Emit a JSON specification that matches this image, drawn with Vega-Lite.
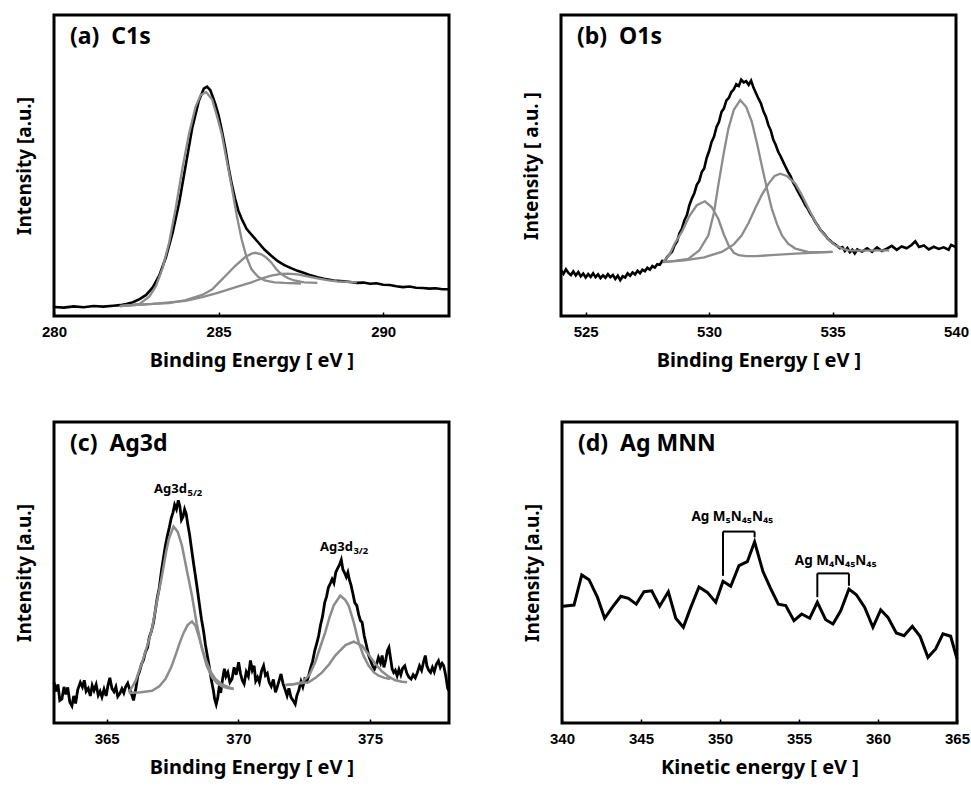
{
"$schema": "https://vega.github.io/schema/vega-lite/v6.json",
"padding": {"left": 13, "top": 13, "right": 0, "bottom": 0},
"background": "white",
"config": {
  "view": {"stroke": "black", "strokeWidth": 3},
  "axisX": {"grid": false, "domain": false, "tickColor": "black", "tickSize": -4, "tickWidth": 1.5, "labelFont": "Liberation Sans", "labelFontWeight": "bold", "labelFontSize": 15, "labelColor": "black", "labelPadding": 12, "labelFlush": false, "labelOverlap": false, "titleFont": "Noto Sans", "titleFontSize": 20, "titleFontWeight": "bold", "titleColor": "black", "titlePadding": 11},
  "axisY": {"grid": false, "domain": false, "ticks": false, "labels": false, "titleFont": "Noto Sans", "titleFontSize": 19, "titleFontWeight": "bold", "titleColor": "black", "titlePadding": 20},
  "title": {"anchor": "start", "frame": "group", "offset": -34, "dx": 16, "fontSize": 23, "font": "Noto Sans", "fontWeight": "bold", "color": "black", "baseline": "alphabetic"}
},
"datasets": {
  "a": [
{"e":280.0,"i":3.0,"s":"raw"},{"e":280.3,"i":2.8,"s":"raw"},{"e":280.6,"i":3.2,"s":"raw"},{"e":280.9,"i":2.9,"s":"raw"},{"e":281.2,"i":3.3,"s":"raw"},{"e":281.5,"i":3.1,"s":"raw"},{"e":281.8,"i":3.4,"s":"raw"},{"e":282.0,"i":3.6,"s":"raw"},{"e":282.2,"i":4.0,"s":"raw"},{"e":282.4,"i":4.6,"s":"raw"},{"e":282.6,"i":5.6,"s":"raw"},{"e":282.8,"i":7.0,"s":"raw"},{"e":283.0,"i":9.5,"s":"raw"},{"e":283.2,"i":13.5,"s":"raw"},{"e":283.4,"i":19.5,"s":"raw"},{"e":283.6,"i":27.5,"s":"raw"},{"e":283.8,"i":37.5,"s":"raw"},{"e":284.0,"i":50.0,"s":"raw"},{"e":284.2,"i":62.5,"s":"raw"},{"e":284.4,"i":71.5,"s":"raw"},{"e":284.55,"i":75.5,"s":"raw"},{"e":284.65,"i":76.2,"s":"raw"},{"e":284.75,"i":75.0,"s":"raw"},{"e":284.9,"i":70.5,"s":"raw"},{"e":285.0,"i":66.7,"s":"raw"},{"e":285.1,"i":61.5,"s":"raw"},{"e":285.2,"i":56.0,"s":"raw"},{"e":285.3,"i":49.5,"s":"raw"},{"e":285.4,"i":43.8,"s":"raw"},{"e":285.5,"i":39.0,"s":"raw"},{"e":285.6,"i":35.0,"s":"raw"},{"e":285.7,"i":32.3,"s":"raw"},{"e":285.85,"i":29.0,"s":"raw"},{"e":286.0,"i":27.0,"s":"raw"},{"e":286.2,"i":24.5,"s":"raw"},{"e":286.4,"i":22.0,"s":"raw"},{"e":286.6,"i":20.0,"s":"raw"},{"e":286.8,"i":18.2,"s":"raw"},{"e":287.0,"i":16.9,"s":"raw"},{"e":287.2,"i":15.9,"s":"raw"},{"e":287.4,"i":15.0,"s":"raw"},{"e":287.6,"i":14.3,"s":"raw"},{"e":287.8,"i":13.5,"s":"raw"},{"e":288.0,"i":12.9,"s":"raw"},{"e":288.2,"i":12.4,"s":"raw"},{"e":288.5,"i":11.8,"s":"raw"},{"e":288.8,"i":11.5,"s":"raw"},{"e":289.0,"i":11.3,"s":"raw"},{"e":289.2,"i":11.0,"s":"raw"},{"e":289.4,"i":11.1,"s":"raw"},{"e":289.6,"i":10.7,"s":"raw"},{"e":289.8,"i":10.9,"s":"raw"},{"e":290.0,"i":10.4,"s":"raw"},{"e":290.2,"i":10.3,"s":"raw"},{"e":290.4,"i":9.9,"s":"raw"},{"e":290.6,"i":9.6,"s":"raw"},{"e":290.8,"i":9.8,"s":"raw"},{"e":291.0,"i":9.4,"s":"raw"},{"e":291.2,"i":9.3,"s":"raw"},{"e":291.4,"i":9.1,"s":"raw"},{"e":291.6,"i":9.2,"s":"raw"},{"e":291.8,"i":8.9,"s":"raw"},{"e":292.0,"i":8.9,"s":"raw"},
{"e":282.0,"i":3.3,"s":"c1"},{"e":282.3,"i":3.6,"s":"c1"},{"e":282.6,"i":4.0,"s":"c1"},{"e":282.9,"i":6.5,"s":"c1"},{"e":283.1,"i":10.0,"s":"c1"},{"e":283.3,"i":16.0,"s":"c1"},{"e":283.5,"i":24.5,"s":"c1"},{"e":283.7,"i":36.0,"s":"c1"},{"e":283.9,"i":49.0,"s":"c1"},{"e":284.1,"i":60.5,"s":"c1"},{"e":284.3,"i":69.5,"s":"c1"},{"e":284.45,"i":73.3,"s":"c1"},{"e":284.62,"i":74.4,"s":"c1"},{"e":284.8,"i":72.0,"s":"c1"},{"e":284.95,"i":66.5,"s":"c1"},{"e":285.1,"i":60.3,"s":"c1"},{"e":285.25,"i":51.5,"s":"c1"},{"e":285.4,"i":42.8,"s":"c1"},{"e":285.55,"i":33.5,"s":"c1"},{"e":285.7,"i":25.5,"s":"c1"},{"e":285.85,"i":19.5,"s":"c1"},{"e":286.0,"i":15.5,"s":"c1"},{"e":286.2,"i":13.0,"s":"c1"},{"e":286.4,"i":11.8,"s":"c1"},{"e":286.7,"i":11.2,"s":"c1"},{"e":287.0,"i":11.0,"s":"c1"},{"e":287.5,"i":10.8,"s":"c1"},
{"e":282.0,"i":3.3,"s":"c2"},{"e":282.5,"i":3.7,"s":"c2"},{"e":283.0,"i":4.0,"s":"c2"},{"e":283.5,"i":4.3,"s":"c2"},{"e":284.0,"i":5.3,"s":"c2"},{"e":284.5,"i":7.0,"s":"c2"},{"e":284.8,"i":8.8,"s":"c2"},{"e":285.0,"i":11.0,"s":"c2"},{"e":285.2,"i":13.2,"s":"c2"},{"e":285.5,"i":16.6,"s":"c2"},{"e":285.8,"i":19.5,"s":"c2"},{"e":286.0,"i":20.7,"s":"c2"},{"e":286.12,"i":21.0,"s":"c2"},{"e":286.3,"i":20.5,"s":"c2"},{"e":286.45,"i":19.4,"s":"c2"},{"e":286.6,"i":17.8,"s":"c2"},{"e":286.75,"i":15.6,"s":"c2"},{"e":286.9,"i":13.9,"s":"c2"},{"e":287.1,"i":12.6,"s":"c2"},{"e":287.3,"i":11.8,"s":"c2"},{"e":287.6,"i":11.2,"s":"c2"},{"e":288.0,"i":11.0,"s":"c2"},
{"e":282.0,"i":3.3,"s":"c3"},{"e":283.0,"i":4.0,"s":"c3"},{"e":284.0,"i":5.0,"s":"c3"},{"e":284.5,"i":6.3,"s":"c3"},{"e":285.0,"i":7.8,"s":"c3"},{"e":285.5,"i":9.5,"s":"c3"},{"e":286.0,"i":11.2,"s":"c3"},{"e":286.3,"i":12.4,"s":"c3"},{"e":286.6,"i":13.4,"s":"c3"},{"e":286.9,"i":14.0,"s":"c3"},{"e":287.1,"i":14.1,"s":"c3"},{"e":287.4,"i":13.8,"s":"c3"},{"e":287.7,"i":13.2,"s":"c3"},{"e":288.0,"i":12.5,"s":"c3"},{"e":288.3,"i":11.9,"s":"c3"},{"e":288.6,"i":11.5,"s":"c3"},{"e":289.2,"i":11.2,"s":"c3"}
  ],
  "b": [
{"e":524.0,"i":15.2,"s":"raw"},{"e":524.1,"i":14.0,"s":"raw"},{"e":524.2,"i":15.5,"s":"raw"},{"e":524.3,"i":14.3,"s":"raw"},{"e":524.4,"i":13.6,"s":"raw"},{"e":524.5,"i":14.8,"s":"raw"},{"e":524.6,"i":13.5,"s":"raw"},{"e":524.7,"i":14.6,"s":"raw"},{"e":524.8,"i":13.2,"s":"raw"},{"e":524.9,"i":14.1,"s":"raw"},{"e":525.0,"i":12.8,"s":"raw"},{"e":525.1,"i":13.9,"s":"raw"},{"e":525.2,"i":13.0,"s":"raw"},{"e":525.3,"i":14.2,"s":"raw"},{"e":525.4,"i":12.9,"s":"raw"},{"e":525.5,"i":13.8,"s":"raw"},{"e":525.6,"i":12.6,"s":"raw"},{"e":525.7,"i":13.5,"s":"raw"},{"e":525.8,"i":12.7,"s":"raw"},{"e":525.9,"i":13.9,"s":"raw"},{"e":526.0,"i":12.9,"s":"raw"},{"e":526.1,"i":13.6,"s":"raw"},{"e":526.2,"i":12.3,"s":"raw"},{"e":526.3,"i":13.4,"s":"raw"},{"e":526.4,"i":11.9,"s":"raw"},{"e":526.5,"i":13.2,"s":"raw"},{"e":526.6,"i":12.8,"s":"raw"},{"e":526.7,"i":14.2,"s":"raw"},{"e":526.8,"i":13.4,"s":"raw"},{"e":526.9,"i":14.5,"s":"raw"},{"e":527.0,"i":13.8,"s":"raw"},{"e":527.1,"i":15.0,"s":"raw"},{"e":527.2,"i":14.2,"s":"raw"},{"e":527.3,"i":15.4,"s":"raw"},{"e":527.4,"i":14.9,"s":"raw"},{"e":527.5,"i":16.0,"s":"raw"},{"e":527.6,"i":15.4,"s":"raw"},{"e":527.7,"i":16.6,"s":"raw"},{"e":527.8,"i":16.1,"s":"raw"},{"e":527.9,"i":17.2,"s":"raw"},{"e":528.0,"i":17.0,"s":"raw"},{"e":528.1,"i":18.3,"s":"raw"},{"e":528.2,"i":18.2,"s":"raw"},{"e":528.3,"i":19.6,"s":"raw"},{"e":528.4,"i":20.5,"s":"raw"},{"e":528.5,"i":21.4,"s":"raw"},{"e":528.6,"i":23.5,"s":"raw"},{"e":528.7,"i":24.8,"s":"raw"},{"e":528.8,"i":27.5,"s":"raw"},{"e":528.9,"i":29.0,"s":"raw"},{"e":529.0,"i":31.8,"s":"raw"},{"e":529.1,"i":33.5,"s":"raw"},{"e":529.2,"i":36.8,"s":"raw"},{"e":529.3,"i":39.0,"s":"raw"},{"e":529.4,"i":40.8,"s":"raw"},{"e":529.5,"i":43.6,"s":"raw"},{"e":529.6,"i":44.9,"s":"raw"},{"e":529.7,"i":47.8,"s":"raw"},{"e":529.8,"i":49.0,"s":"raw"},{"e":529.9,"i":52.5,"s":"raw"},{"e":530.0,"i":54.8,"s":"raw"},{"e":530.1,"i":57.8,"s":"raw"},{"e":530.2,"i":59.6,"s":"raw"},{"e":530.3,"i":62.8,"s":"raw"},{"e":530.4,"i":64.5,"s":"raw"},{"e":530.5,"i":67.8,"s":"raw"},{"e":530.6,"i":69.0,"s":"raw"},{"e":530.7,"i":71.6,"s":"raw"},{"e":530.8,"i":72.5,"s":"raw"},{"e":530.9,"i":74.4,"s":"raw"},{"e":531.0,"i":75.3,"s":"raw"},{"e":531.1,"i":77.0,"s":"raw"},{"e":531.2,"i":76.4,"s":"raw"},{"e":531.3,"i":78.5,"s":"raw"},{"e":531.4,"i":77.6,"s":"raw"},{"e":531.5,"i":78.0,"s":"raw"},{"e":531.6,"i":76.8,"s":"raw"},{"e":531.7,"i":78.2,"s":"raw"},{"e":531.8,"i":75.8,"s":"raw"},{"e":531.9,"i":74.0,"s":"raw"},{"e":532.0,"i":72.2,"s":"raw"},{"e":532.1,"i":70.6,"s":"raw"},{"e":532.2,"i":68.0,"s":"raw"},{"e":532.3,"i":66.2,"s":"raw"},{"e":532.4,"i":63.4,"s":"raw"},{"e":532.5,"i":61.6,"s":"raw"},{"e":532.6,"i":58.5,"s":"raw"},{"e":532.7,"i":56.8,"s":"raw"},{"e":532.8,"i":54.5,"s":"raw"},{"e":532.9,"i":53.0,"s":"raw"},{"e":533.0,"i":51.2,"s":"raw"},{"e":533.1,"i":49.5,"s":"raw"},{"e":533.2,"i":47.8,"s":"raw"},{"e":533.3,"i":46.5,"s":"raw"},{"e":533.4,"i":44.4,"s":"raw"},{"e":533.5,"i":43.0,"s":"raw"},{"e":533.6,"i":41.3,"s":"raw"},{"e":533.7,"i":39.8,"s":"raw"},{"e":533.8,"i":38.4,"s":"raw"},{"e":533.9,"i":36.8,"s":"raw"},{"e":534.0,"i":35.6,"s":"raw"},{"e":534.1,"i":34.0,"s":"raw"},{"e":534.2,"i":32.8,"s":"raw"},{"e":534.3,"i":31.2,"s":"raw"},{"e":534.4,"i":30.1,"s":"raw"},{"e":534.5,"i":28.7,"s":"raw"},{"e":534.6,"i":27.8,"s":"raw"},{"e":534.7,"i":26.9,"s":"raw"},{"e":534.8,"i":25.7,"s":"raw"},{"e":534.9,"i":25.1,"s":"raw"},{"e":535.0,"i":24.3,"s":"raw"},{"e":535.1,"i":23.8,"s":"raw"},{"e":535.2,"i":23.2,"s":"raw"},{"e":535.3,"i":22.5,"s":"raw"},{"e":535.4,"i":22.9,"s":"raw"},{"e":535.5,"i":21.6,"s":"raw"},{"e":535.6,"i":22.6,"s":"raw"},{"e":535.7,"i":21.2,"s":"raw"},{"e":535.8,"i":22.0,"s":"raw"},{"e":535.9,"i":20.8,"s":"raw"},{"e":536.0,"i":22.1,"s":"raw"},{"e":536.2,"i":21.4,"s":"raw"},{"e":536.4,"i":22.5,"s":"raw"},{"e":536.6,"i":21.3,"s":"raw"},{"e":536.8,"i":22.8,"s":"raw"},{"e":537.0,"i":21.6,"s":"raw"},{"e":537.2,"i":22.4,"s":"raw"},{"e":537.4,"i":23.3,"s":"raw"},{"e":537.6,"i":22.0,"s":"raw"},{"e":537.8,"i":23.1,"s":"raw"},{"e":538.0,"i":22.5,"s":"raw"},{"e":538.2,"i":23.6,"s":"raw"},{"e":538.35,"i":24.8,"s":"raw"},{"e":538.5,"i":22.9,"s":"raw"},{"e":538.7,"i":23.4,"s":"raw"},{"e":538.9,"i":22.1,"s":"raw"},{"e":539.1,"i":23.0,"s":"raw"},{"e":539.3,"i":22.3,"s":"raw"},{"e":539.5,"i":22.8,"s":"raw"},{"e":539.7,"i":22.0,"s":"raw"},{"e":539.8,"i":23.6,"s":"raw"},{"e":540.0,"i":22.9,"s":"raw"},
{"e":528.14,"i":17.9,"s":"c1"},{"e":528.4,"i":20.5,"s":"c1"},{"e":528.6,"i":24.0,"s":"c1"},{"e":528.9,"i":28.0,"s":"c1"},{"e":529.2,"i":33.2,"s":"c1"},{"e":529.5,"i":36.8,"s":"c1"},{"e":529.83,"i":38.1,"s":"c1"},{"e":530.1,"i":36.2,"s":"c1"},{"e":530.37,"i":32.3,"s":"c1"},{"e":530.6,"i":27.0,"s":"c1"},{"e":530.8,"i":23.3,"s":"c1"},{"e":531.0,"i":21.0,"s":"c1"},{"e":531.2,"i":20.2,"s":"c1"},{"e":531.5,"i":19.9,"s":"c1"},{"e":531.9,"i":19.9,"s":"c1"},{"e":532.5,"i":20.2,"s":"c1"},{"e":533.5,"i":20.7,"s":"c1"},{"e":535.0,"i":21.3,"s":"c1"},
{"e":528.14,"i":17.9,"s":"c2"},{"e":528.6,"i":18.3,"s":"c2"},{"e":529.16,"i":19.0,"s":"c2"},{"e":529.6,"i":21.8,"s":"c2"},{"e":529.97,"i":26.8,"s":"c2"},{"e":530.2,"i":34.5,"s":"c2"},{"e":530.37,"i":43.4,"s":"c2"},{"e":530.6,"i":54.5,"s":"c2"},{"e":530.78,"i":62.2,"s":"c2"},{"e":531.0,"i":68.5,"s":"c2"},{"e":531.26,"i":71.7,"s":"c2"},{"e":531.5,"i":69.5,"s":"c2"},{"e":531.73,"i":64.5,"s":"c2"},{"e":531.95,"i":57.0,"s":"c2"},{"e":532.13,"i":50.1,"s":"c2"},{"e":532.35,"i":42.0,"s":"c2"},{"e":532.54,"i":35.6,"s":"c2"},{"e":532.75,"i":30.5,"s":"c2"},{"e":532.95,"i":26.8,"s":"c2"},{"e":533.2,"i":24.0,"s":"c2"},{"e":533.49,"i":22.4,"s":"c2"},{"e":534.0,"i":21.3,"s":"c2"},{"e":534.5,"i":21.2,"s":"c2"},{"e":535.0,"i":21.3,"s":"c2"},
{"e":528.14,"i":17.9,"s":"c3"},{"e":529.0,"i":18.5,"s":"c3"},{"e":529.8,"i":19.5,"s":"c3"},{"e":530.51,"i":21.3,"s":"c3"},{"e":531.0,"i":23.8,"s":"c3"},{"e":531.32,"i":26.8,"s":"c3"},{"e":531.6,"i":31.0,"s":"c3"},{"e":531.86,"i":35.6,"s":"c3"},{"e":532.15,"i":40.5,"s":"c3"},{"e":532.41,"i":44.0,"s":"c3"},{"e":532.65,"i":46.5,"s":"c3"},{"e":532.88,"i":47.3,"s":"c3"},{"e":533.15,"i":46.5,"s":"c3"},{"e":533.49,"i":44.0,"s":"c3"},{"e":533.75,"i":40.3,"s":"c3"},{"e":534.03,"i":35.6,"s":"c3"},{"e":534.3,"i":31.3,"s":"c3"},{"e":534.57,"i":27.9,"s":"c3"},{"e":534.85,"i":25.3,"s":"c3"},{"e":535.11,"i":23.5,"s":"c3"},{"e":535.4,"i":22.4,"s":"c3"},{"e":535.65,"i":21.8,"s":"c3"},{"e":536.2,"i":21.7,"s":"c3"},{"e":537.3,"i":21.8,"s":"c3"}
  ],
  "c": [
{"e":363.00,"i":13.5,"s":"raw"},{"e":363.08,"i":10.5,"s":"raw"},{"e":363.15,"i":12.8,"s":"raw"},{"e":363.22,"i":7.5,"s":"raw"},{"e":363.30,"i":8.0,"s":"raw"},{"e":363.38,"i":12.0,"s":"raw"},{"e":363.45,"i":9.5,"s":"raw"},{"e":363.52,"i":11.8,"s":"raw"},{"e":363.60,"i":7.0,"s":"raw"},{"e":363.68,"i":5.7,"s":"raw"},{"e":363.75,"i":9.0,"s":"raw"},{"e":363.82,"i":6.5,"s":"raw"},{"e":363.90,"i":11.0,"s":"raw"},{"e":364.00,"i":13.5,"s":"raw"},{"e":364.08,"i":12.0,"s":"raw"},{"e":364.15,"i":14.2,"s":"raw"},{"e":364.22,"i":10.5,"s":"raw"},{"e":364.30,"i":11.5,"s":"raw"},{"e":364.38,"i":9.0,"s":"raw"},{"e":364.45,"i":12.5,"s":"raw"},{"e":364.52,"i":10.8,"s":"raw"},{"e":364.60,"i":12.8,"s":"raw"},{"e":364.68,"i":9.2,"s":"raw"},{"e":364.75,"i":10.5,"s":"raw"},{"e":364.82,"i":8.6,"s":"raw"},{"e":364.90,"i":11.2,"s":"raw"},{"e":364.98,"i":9.0,"s":"raw"},{"e":365.05,"i":12.5,"s":"raw"},{"e":365.12,"i":15.0,"s":"raw"},{"e":365.20,"i":11.5,"s":"raw"},{"e":365.28,"i":10.4,"s":"raw"},{"e":365.35,"i":12.0,"s":"raw"},{"e":365.42,"i":8.8,"s":"raw"},{"e":365.50,"i":9.8,"s":"raw"},{"e":365.58,"i":11.4,"s":"raw"},{"e":365.65,"i":10.0,"s":"raw"},{"e":365.72,"i":12.0,"s":"raw"},{"e":365.80,"i":13.2,"s":"raw"},{"e":365.88,"i":11.0,"s":"raw"},{"e":365.95,"i":9.5,"s":"raw"},{"e":366.02,"i":7.5,"s":"raw"},{"e":366.10,"i":11.0,"s":"raw"},{"e":366.18,"i":15.5,"s":"raw"},{"e":366.25,"i":17.2,"s":"raw"},{"e":366.32,"i":19.5,"s":"raw"},{"e":366.40,"i":21.0,"s":"raw"},{"e":366.47,"i":23.5,"s":"raw"},{"e":366.55,"i":25.0,"s":"raw"},{"e":366.62,"i":28.5,"s":"raw"},{"e":366.70,"i":30.5,"s":"raw"},{"e":366.78,"i":33.5,"s":"raw"},{"e":366.85,"i":37.5,"s":"raw"},{"e":366.92,"i":41.5,"s":"raw"},{"e":367.00,"i":45.0,"s":"raw"},{"e":367.08,"i":50.5,"s":"raw"},{"e":367.15,"i":54.5,"s":"raw"},{"e":367.23,"i":58.9,"s":"raw"},{"e":367.30,"i":62.0,"s":"raw"},{"e":367.38,"i":65.0,"s":"raw"},{"e":367.45,"i":68.0,"s":"raw"},{"e":367.52,"i":70.0,"s":"raw"},{"e":367.58,"i":72.5,"s":"raw"},{"e":367.65,"i":71.0,"s":"raw"},{"e":367.72,"i":74.0,"s":"raw"},{"e":367.78,"i":72.0,"s":"raw"},{"e":367.84,"i":67.5,"s":"raw"},{"e":367.90,"i":68.5,"s":"raw"},{"e":367.96,"i":71.0,"s":"raw"},{"e":368.02,"i":69.5,"s":"raw"},{"e":368.08,"i":66.0,"s":"raw"},{"e":368.15,"i":62.5,"s":"raw"},{"e":368.22,"i":58.0,"s":"raw"},{"e":368.30,"i":53.0,"s":"raw"},{"e":368.37,"i":48.9,"s":"raw"},{"e":368.45,"i":44.0,"s":"raw"},{"e":368.52,"i":39.5,"s":"raw"},{"e":368.60,"i":34.5,"s":"raw"},{"e":368.68,"i":30.5,"s":"raw"},{"e":368.75,"i":26.0,"s":"raw"},{"e":368.83,"i":22.0,"s":"raw"},{"e":368.90,"i":18.5,"s":"raw"},{"e":368.98,"i":14.0,"s":"raw"},{"e":369.05,"i":11.0,"s":"raw"},{"e":369.10,"i":8.0,"s":"raw"},{"e":369.16,"i":6.2,"s":"raw"},{"e":369.22,"i":8.5,"s":"raw"},{"e":369.28,"i":12.5,"s":"raw"},{"e":369.33,"i":10.0,"s":"raw"},{"e":369.40,"i":14.5,"s":"raw"},{"e":369.47,"i":18.0,"s":"raw"},{"e":369.53,"i":15.5,"s":"raw"},{"e":369.60,"i":16.8,"s":"raw"},{"e":369.68,"i":13.5,"s":"raw"},{"e":369.76,"i":14.6,"s":"raw"},{"e":369.84,"i":18.5,"s":"raw"},{"e":369.92,"i":16.0,"s":"raw"},{"e":370.01,"i":20.2,"s":"raw"},{"e":370.08,"i":16.5,"s":"raw"},{"e":370.15,"i":14.2,"s":"raw"},{"e":370.22,"i":13.0,"s":"raw"},{"e":370.30,"i":17.0,"s":"raw"},{"e":370.38,"i":15.5,"s":"raw"},{"e":370.46,"i":20.8,"s":"raw"},{"e":370.53,"i":17.5,"s":"raw"},{"e":370.60,"i":19.0,"s":"raw"},{"e":370.66,"i":14.0,"s":"raw"},{"e":370.73,"i":15.2,"s":"raw"},{"e":370.80,"i":13.5,"s":"raw"},{"e":370.88,"i":17.2,"s":"raw"},{"e":370.96,"i":19.0,"s":"raw"},{"e":371.03,"i":15.8,"s":"raw"},{"e":371.10,"i":16.5,"s":"raw"},{"e":371.17,"i":13.5,"s":"raw"},{"e":371.25,"i":12.2,"s":"raw"},{"e":371.33,"i":14.5,"s":"raw"},{"e":371.41,"i":10.2,"s":"raw"},{"e":371.48,"i":12.0,"s":"raw"},{"e":371.55,"i":14.2,"s":"raw"},{"e":371.62,"i":16.3,"s":"raw"},{"e":371.70,"i":13.0,"s":"raw"},{"e":371.78,"i":11.0,"s":"raw"},{"e":371.85,"i":9.1,"s":"raw"},{"e":371.92,"i":11.5,"s":"raw"},{"e":372.00,"i":8.5,"s":"raw"},{"e":372.08,"i":7.5,"s":"raw"},{"e":372.16,"i":6.3,"s":"raw"},{"e":372.22,"i":9.0,"s":"raw"},{"e":372.30,"i":11.0,"s":"raw"},{"e":372.38,"i":13.8,"s":"raw"},{"e":372.45,"i":12.0,"s":"raw"},{"e":372.52,"i":14.5,"s":"raw"},{"e":372.60,"i":13.8,"s":"raw"},{"e":372.67,"i":15.7,"s":"raw"},{"e":372.75,"i":18.5,"s":"raw"},{"e":372.82,"i":20.5,"s":"raw"},{"e":372.90,"i":24.0,"s":"raw"},{"e":372.98,"i":26.5,"s":"raw"},{"e":373.05,"i":29.0,"s":"raw"},{"e":373.12,"i":32.5,"s":"raw"},{"e":373.20,"i":35.5,"s":"raw"},{"e":373.28,"i":40.0,"s":"raw"},{"e":373.35,"i":42.0,"s":"raw"},{"e":373.42,"i":45.0,"s":"raw"},{"e":373.50,"i":46.5,"s":"raw"},{"e":373.56,"i":47.8,"s":"raw"},{"e":373.63,"i":46.5,"s":"raw"},{"e":373.70,"i":50.0,"s":"raw"},{"e":373.76,"i":51.2,"s":"raw"},{"e":373.84,"i":52.5,"s":"raw"},{"e":373.91,"i":54.2,"s":"raw"},{"e":373.97,"i":51.0,"s":"raw"},{"e":374.03,"i":50.0,"s":"raw"},{"e":374.10,"i":48.5,"s":"raw"},{"e":374.16,"i":50.0,"s":"raw"},{"e":374.22,"i":47.5,"s":"raw"},{"e":374.28,"i":45.8,"s":"raw"},{"e":374.35,"i":43.0,"s":"raw"},{"e":374.42,"i":40.0,"s":"raw"},{"e":374.50,"i":39.0,"s":"raw"},{"e":374.57,"i":36.0,"s":"raw"},{"e":374.64,"i":34.0,"s":"raw"},{"e":374.70,"i":33.5,"s":"raw"},{"e":374.78,"i":29.0,"s":"raw"},{"e":374.86,"i":26.0,"s":"raw"},{"e":374.95,"i":22.4,"s":"raw"},{"e":375.03,"i":20.5,"s":"raw"},{"e":375.10,"i":19.0,"s":"raw"},{"e":375.17,"i":17.9,"s":"raw"},{"e":375.25,"i":19.5,"s":"raw"},{"e":375.32,"i":21.8,"s":"raw"},{"e":375.40,"i":20.0,"s":"raw"},{"e":375.46,"i":22.4,"s":"raw"},{"e":375.53,"i":18.5,"s":"raw"},{"e":375.60,"i":21.0,"s":"raw"},{"e":375.66,"i":24.0,"s":"raw"},{"e":375.72,"i":25.1,"s":"raw"},{"e":375.78,"i":21.5,"s":"raw"},{"e":375.84,"i":18.0,"s":"raw"},{"e":375.90,"i":16.8,"s":"raw"},{"e":375.96,"i":17.5,"s":"raw"},{"e":376.03,"i":15.7,"s":"raw"},{"e":376.10,"i":17.8,"s":"raw"},{"e":376.17,"i":16.0,"s":"raw"},{"e":376.24,"i":18.2,"s":"raw"},{"e":376.32,"i":19.0,"s":"raw"},{"e":376.40,"i":16.5,"s":"raw"},{"e":376.48,"i":15.2,"s":"raw"},{"e":376.56,"i":14.6,"s":"raw"},{"e":376.64,"i":16.0,"s":"raw"},{"e":376.72,"i":15.0,"s":"raw"},{"e":376.80,"i":16.8,"s":"raw"},{"e":376.88,"i":19.0,"s":"raw"},{"e":376.96,"i":17.5,"s":"raw"},{"e":377.04,"i":20.5,"s":"raw"},{"e":377.10,"i":22.4,"s":"raw"},{"e":377.16,"i":19.0,"s":"raw"},{"e":377.23,"i":17.5,"s":"raw"},{"e":377.30,"i":16.8,"s":"raw"},{"e":377.37,"i":18.5,"s":"raw"},{"e":377.44,"i":17.0,"s":"raw"},{"e":377.52,"i":19.5,"s":"raw"},{"e":377.60,"i":20.7,"s":"raw"},{"e":377.67,"i":18.5,"s":"raw"},{"e":377.74,"i":19.8,"s":"raw"},{"e":377.80,"i":19.0,"s":"raw"},{"e":377.88,"i":15.5,"s":"raw"},{"e":377.95,"i":11.5,"s":"raw"},{"e":378.00,"i":10.7,"s":"raw"},
{"e":365.84,"i":10.2,"s":"c1"},{"e":366.1,"i":14.0,"s":"c1"},{"e":366.35,"i":20.2,"s":"c1"},{"e":366.55,"i":26.0,"s":"c1"},{"e":366.72,"i":31.2,"s":"c1"},{"e":366.9,"i":40.0,"s":"c1"},{"e":367.1,"i":48.9,"s":"c1"},{"e":367.25,"i":56.5,"s":"c1"},{"e":367.36,"i":61.1,"s":"c1"},{"e":367.54,"i":65.3,"s":"c1"},{"e":367.7,"i":63.5,"s":"c1"},{"e":367.86,"i":58.9,"s":"c1"},{"e":368.05,"i":50.5,"s":"c1"},{"e":368.24,"i":42.3,"s":"c1"},{"e":368.42,"i":33.0,"s":"c1"},{"e":368.62,"i":24.6,"s":"c1"},{"e":368.8,"i":19.0,"s":"c1"},{"e":369.0,"i":15.2,"s":"c1"},{"e":369.2,"i":13.2,"s":"c1"},{"e":369.38,"i":12.2,"s":"c1"},{"e":369.6,"i":11.6,"s":"c1"},{"e":369.82,"i":11.3,"s":"c1"},
{"e":365.84,"i":10.0,"s":"c2"},{"e":366.3,"i":10.2,"s":"c2"},{"e":366.72,"i":10.7,"s":"c2"},{"e":367.0,"i":12.2,"s":"c2"},{"e":367.23,"i":14.6,"s":"c2"},{"e":367.45,"i":18.5,"s":"c2"},{"e":367.61,"i":22.4,"s":"c2"},{"e":367.78,"i":26.8,"s":"c2"},{"e":367.93,"i":30.1,"s":"c2"},{"e":368.08,"i":32.6,"s":"c2"},{"e":368.24,"i":33.7,"s":"c2"},{"e":368.38,"i":32.2,"s":"c2"},{"e":368.49,"i":29.0,"s":"c2"},{"e":368.62,"i":25.0,"s":"c2"},{"e":368.75,"i":21.3,"s":"c2"},{"e":368.95,"i":17.0,"s":"c2"},{"e":369.13,"i":14.6,"s":"c2"},{"e":369.38,"i":12.8,"s":"c2"},{"e":369.63,"i":11.9,"s":"c2"},{"e":369.82,"i":11.3,"s":"c2"},
{"e":371.79,"i":12.6,"s":"c3"},{"e":372.1,"i":12.9,"s":"c3"},{"e":372.42,"i":13.5,"s":"c3"},{"e":372.7,"i":16.0,"s":"c3"},{"e":372.92,"i":20.2,"s":"c3"},{"e":373.12,"i":25.5,"s":"c3"},{"e":373.30,"i":30.1,"s":"c3"},{"e":373.46,"i":35.0,"s":"c3"},{"e":373.62,"i":39.0,"s":"c3"},{"e":373.87,"i":42.3,"s":"c3"},{"e":374.05,"i":41.0,"s":"c3"},{"e":374.19,"i":39.0,"s":"c3"},{"e":374.38,"i":33.5,"s":"c3"},{"e":374.57,"i":26.8,"s":"c3"},{"e":374.76,"i":22.2,"s":"c3"},{"e":374.95,"i":19.0,"s":"c3"},{"e":375.15,"i":16.8,"s":"c3"},{"e":375.33,"i":15.7,"s":"c3"},{"e":375.55,"i":15.0,"s":"c3"},{"e":375.77,"i":14.6,"s":"c3"},
{"e":371.79,"i":12.6,"s":"c4"},{"e":372.2,"i":13.0,"s":"c4"},{"e":372.67,"i":13.5,"s":"c4"},{"e":372.93,"i":15.0,"s":"c4"},{"e":373.18,"i":16.8,"s":"c4"},{"e":373.45,"i":19.5,"s":"c4"},{"e":373.68,"i":22.4,"s":"c4"},{"e":374.07,"i":25.9,"s":"c4"},{"e":374.38,"i":27.0,"s":"c4"},{"e":374.70,"i":25.7,"s":"c4"},{"e":374.95,"i":22.7,"s":"c4"},{"e":375.20,"i":19.7,"s":"c4"},{"e":375.45,"i":17.2,"s":"c4"},{"e":375.71,"i":15.4,"s":"c4"},{"e":375.96,"i":14.2,"s":"c4"},{"e":376.22,"i":13.7,"s":"c4"},{"e":376.41,"i":13.5,"s":"c4"}
  ],
  "cLab": [
    {"e": 368.05, "i": 77.7, "main": "Ag3d", "sub": "5/2"},
    {"e": 374.35, "i": 58.5, "main": "Ag3d", "sub": "3/2"}
  ],
  "d": [
{"e":340.06,"i":38.8},{"e":340.76,"i":39.2},{"e":341.25,"i":49.2},{"e":341.71,"i":47.6},{"e":342.24,"i":41.8},{"e":342.70,"i":34.8},{"e":343.18,"i":38.4},{"e":343.72,"i":42.1},{"e":344.20,"i":41.4},{"e":344.70,"i":39.5},{"e":345.19,"i":43.6},{"e":345.68,"i":43.9},{"e":346.18,"i":38.8},{"e":346.73,"i":43.6},{"e":347.20,"i":34.8},{"e":347.68,"i":31.8},{"e":348.15,"i":38.4},{"e":348.67,"i":45.2},{"e":349.20,"i":43.4},{"e":349.73,"i":40.1},{"e":350.19,"i":47.1},{"e":350.68,"i":45.4},{"e":351.20,"i":52.3},{"e":351.73,"i":53.6},{"e":352.19,"i":60.2},{"e":352.72,"i":50.3},{"e":353.20,"i":44.7},{"e":353.69,"i":39.5},{"e":354.16,"i":39.0},{"e":354.68,"i":34.0},{"e":355.17,"i":36.2},{"e":355.68,"i":34.8},{"e":356.16,"i":40.1},{"e":356.69,"i":34.3},{"e":357.15,"i":32.9},{"e":357.64,"i":37.3},{"e":358.16,"i":44.5},{"e":358.63,"i":42.6},{"e":359.16,"i":38.4},{"e":359.68,"i":31.8},{"e":360.17,"i":37.6},{"e":360.63,"i":35.1},{"e":361.16,"i":29.9},{"e":361.65,"i":29.0},{"e":362.17,"i":32.1},{"e":362.66,"i":28.8},{"e":363.16,"i":21.8},{"e":363.65,"i":24.6},{"e":364.11,"i":29.6},{"e":364.60,"i":28.8},{"e":365.00,"i":21.3}
  ],
  "dBr": [
    {"e": 350.19, "e2": 350.19, "i": 48.9, "i2": 63.6},
    {"e": 352.19, "e2": 352.19, "i": 61.7, "i2": 63.6},
    {"e": 350.19, "e2": 352.19, "i": 63.6, "i2": 63.6},
    {"e": 356.16, "e2": 356.16, "i": 41.8, "i2": 49.7},
    {"e": 358.16, "e2": 358.16, "i": 45.6, "i2": 49.7},
    {"e": 356.16, "e2": 358.16, "i": 49.7, "i2": 49.7}
  ],
  "dLab": [
    {"e": 350.78, "i": 68.3, "t": "Ag M₅N₄₅N₄₅"},
    {"e": 357.32, "i": 53.9, "t": "Ag M₄N₄₅N₄₅"}
  ]
},
"spacing": 48,
"vconcat": [
 {"hconcat": [
  {"width": 395, "height": 301,
   "title": {"text": "(a)\u00a0\u00a0C1s"},
   "data": {"name": "a"},
   "encoding": {
     "x": {"field": "e", "type": "quantitative", "scale": {"domain": [280, 292], "nice": false, "zero": false}, "axis": {"title": "Binding Energy [ eV ]", "values": [280, 285, 290]}},
     "y": {"field": "i", "type": "quantitative", "scale": {"domain": [0, 100], "nice": false}, "axis": {"title": "Intensity [a.u.]"}}
   },
   "layer": [
     {"transform": [{"filter": "datum.s == 'raw'"}], "mark": {"type": "line", "color": "black", "strokeWidth": 2.6}},
     {"transform": [{"filter": "datum.s != 'raw'"}], "mark": {"type": "line", "color": "#8c8c8c", "strokeWidth": 2.3}, "encoding": {"detail": {"field": "s"}}}
   ]
  },
  {"width": 395, "height": 301,
   "title": {"text": "(b)\u00a0\u00a0O1s"},
   "data": {"name": "b"},
   "encoding": {
     "x": {"field": "e", "type": "quantitative", "scale": {"domain": [524, 540], "nice": false, "zero": false}, "axis": {"title": "Binding Energy [ eV ]", "values": [525, 530, 535, 540]}},
     "y": {"field": "i", "type": "quantitative", "scale": {"domain": [0, 100], "nice": false}, "axis": {"title": "Intensity [ a.u. ]"}}
   },
   "layer": [
     {"transform": [{"filter": "datum.s == 'raw'"}], "mark": {"type": "line", "color": "black", "strokeWidth": 2.6}},
     {"transform": [{"filter": "datum.s != 'raw'"}], "mark": {"type": "line", "color": "#8c8c8c", "strokeWidth": 2.3}, "encoding": {"detail": {"field": "s"}}}
   ]
  }
 ], "spacing": 64},
 {"hconcat": [
  {"width": 395, "height": 301,
   "title": {"text": "(c)\u00a0\u00a0Ag3d"},
   "encoding": {
     "x": {"field": "e", "type": "quantitative", "scale": {"domain": [363, 378], "nice": false, "zero": false}, "axis": {"title": "Binding Energy [ eV ]", "values": [365, 370, 375]}},
     "y": {"field": "i", "type": "quantitative", "scale": {"domain": [0, 100], "nice": false}, "axis": {"title": "Intensity [a.u.]"}}
   },
   "layer": [
     {"data": {"name": "c"}, "transform": [{"filter": "datum.s == 'raw'"}], "mark": {"type": "line", "color": "black", "strokeWidth": 2.8}},
     {"data": {"name": "c"}, "transform": [{"filter": "datum.s != 'raw'"}], "mark": {"type": "line", "color": "#8c8c8c", "strokeWidth": 2.5}, "encoding": {"detail": {"field": "s"}}},
     {"data": {"name": "cLab"}, "mark": {"type": "text", "align": "right", "baseline": "middle", "font": "Noto Sans", "fontWeight": "bold", "fontSize": 13, "color": "black"}, "encoding": {"text": {"field": "main"}}},
     {"data": {"name": "cLab"}, "mark": {"type": "text", "align": "left", "baseline": "middle", "dy": 4, "dx": 0.5, "font": "Noto Sans", "fontWeight": "bold", "fontSize": 9.5, "color": "black"}, "encoding": {"text": {"field": "sub"}}}
   ]
  },
  {"width": 395, "height": 301,
   "title": {"text": "(d)\u00a0\u00a0Ag MNN"},
   "encoding": {
     "x": {"field": "e", "type": "quantitative", "scale": {"domain": [340, 365], "nice": false, "zero": false}, "axis": {"title": "Kinetic energy [ eV ]", "values": [340, 345, 350, 355, 360, 365]}},
     "y": {"field": "i", "type": "quantitative", "scale": {"domain": [0, 100], "nice": false}, "axis": {"title": "Intensity [a.u.]"}}
   },
   "layer": [
     {"data": {"name": "d"}, "mark": {"type": "line", "color": "black", "strokeWidth": 3}},
     {"data": {"name": "dBr"}, "mark": {"type": "rule", "color": "black", "strokeWidth": 2}, "encoding": {"x2": {"field": "e2"}, "y2": {"field": "i2"}}},
     {"data": {"name": "dLab"}, "mark": {"type": "text", "align": "center", "baseline": "middle", "font": "Noto Sans", "fontWeight": "bold", "fontSize": 13.5, "color": "black"}, "encoding": {"text": {"field": "t"}}}
   ]
  }
 ], "spacing": 64}
]
}
